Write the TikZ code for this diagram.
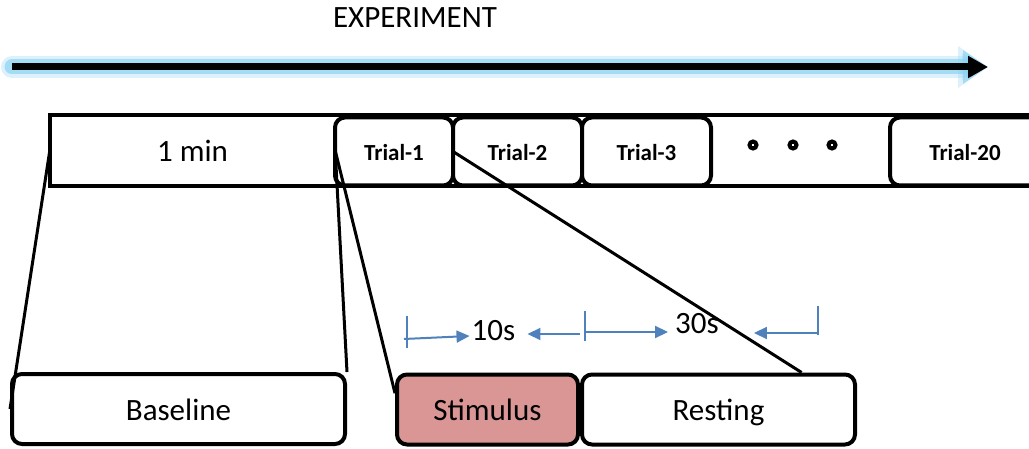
\documentclass[tikz,border=0pt]{standalone}
\usepackage{fontspec}
\setmainfont{Carlito}
\usepackage{xcolor}
\usetikzlibrary{positioning, arrows.meta}

\definecolor{stimred}{RGB}{217,150,148}
\definecolor{tickblue}{RGB}{79,129,189}
\definecolor{glowblue}{RGB}{140,210,242}

\begin{document}
\begin{tikzpicture} [x=1pt, y=-1pt, node distance=0pt,
        big/.style={font=\fontsize{31}{36}\selectfont},
        phase/.style={draw, line width=4pt, rounded corners=10pt, minimum height=70pt, inner sep=0pt, text height=29pt, text depth=7pt, big},
        trial/.style={draw, line width=4pt, rounded corners=10pt, fill=white, minimum height=68pt, minimum width=129pt, inner sep=0pt, outer sep=0pt, text height=23pt, text depth=5pt, font=\bfseries\fontsize{23}{28}\selectfont},
        link/.style={line width=3pt},
        dim/.style={tickblue, line width=2pt},
        dimarrow/.style={dim, -{Triangle[length=13pt, width=12pt]}}]

        \useasboundingbox (0,0) rectangle (1029,449);

        % experiment time line
        \node (expt) [big] at (415,18) {EXPERIMENT};
        \coordinate (tstart) at (12,67); \coordinate (tend) at (988,67);
        \draw [glowblue, opacity=0.3, line width=22pt, line cap=round, -{Triangle[length=30pt, width=40pt]}] (tstart) -- (tend);
        \draw [glowblue, opacity=0.7, line width=15pt, line cap=round, -{Triangle[length=25pt, width=32pt]}] (tstart) -- (tend);
        \draw [line width=7pt, -{Triangle[length=20pt, width=21pt]}] (tstart) -- (tend);

        % bar with the trials
        \node (onemin) [minimum width=285pt, minimum height=71pt, inner sep=0pt, big] at (192.5,150.5) {1 min};
        \draw [line width=4pt] (onemin.north west) rectangle ++(995,71);
        \node (trial1) [trial, minimum width=118pt] at (394,151.5) {Trial-1};
        \node (trial2) [trial, right = of trial1] {Trial-2};
        \node (trial3) [trial, right = of trial2] {Trial-3};
        \node (trial20) [trial, minimum width=150pt] at (965,151.5) {Trial-20};
        \foreach \x in {753,793,832} \draw [line width=4pt] (\x,145) circle (3.5pt);

        % phases
        \node (baseline) [phase, minimum width=333pt] at (178.5,409) {Baseline};
        \node (stim) [phase, fill=stimred, minimum width=181pt] at (487.5,409.5) {Stimulus};
        \node (rest) [phase, minimum width=273pt, right = of stim] {Resting};

        \draw [link] (onemin.west) -- (baseline.west);
        \draw [link] (onemin.east) -- (baseline.north east);
        \draw [link] (onemin.east) -- (stim.170);
        \draw [link] (trial1.east) -- (rest.24);

        % durations
        \node (s10) [big, inner sep=2pt] at (493.5,331) {10s};
        \node (s30) [big, inner sep=2pt] at (697,324) {30s};
        \coordinate (k1) at (407,316); \coordinate (k2) at (585,311); \coordinate (k3) at (818,306);
        \draw [dim] (k1) -- ++(0,32);
        \draw [dim] (k2) -- ++(0,30);
        \draw [dim] (k3) -- ++(0,29);
        \draw [dimarrow] ([shift={(-3,23)}]k1) -- ([yshift=-5pt]s10.west);
        \draw [dimarrow] ([shift={(-5,23)}]k2) -- ([xshift=10pt, yshift=-3pt]s10.east);
        \draw [dimarrow] ([shift={(1,21)}]k2) -- ([xshift=-5pt, yshift=-8pt]s30.west);
        \draw [dimarrow] ([yshift=-27pt]k3) -- ([xshift=33pt, yshift=-9pt]s30.east);

    \end{tikzpicture}
\end{document}
